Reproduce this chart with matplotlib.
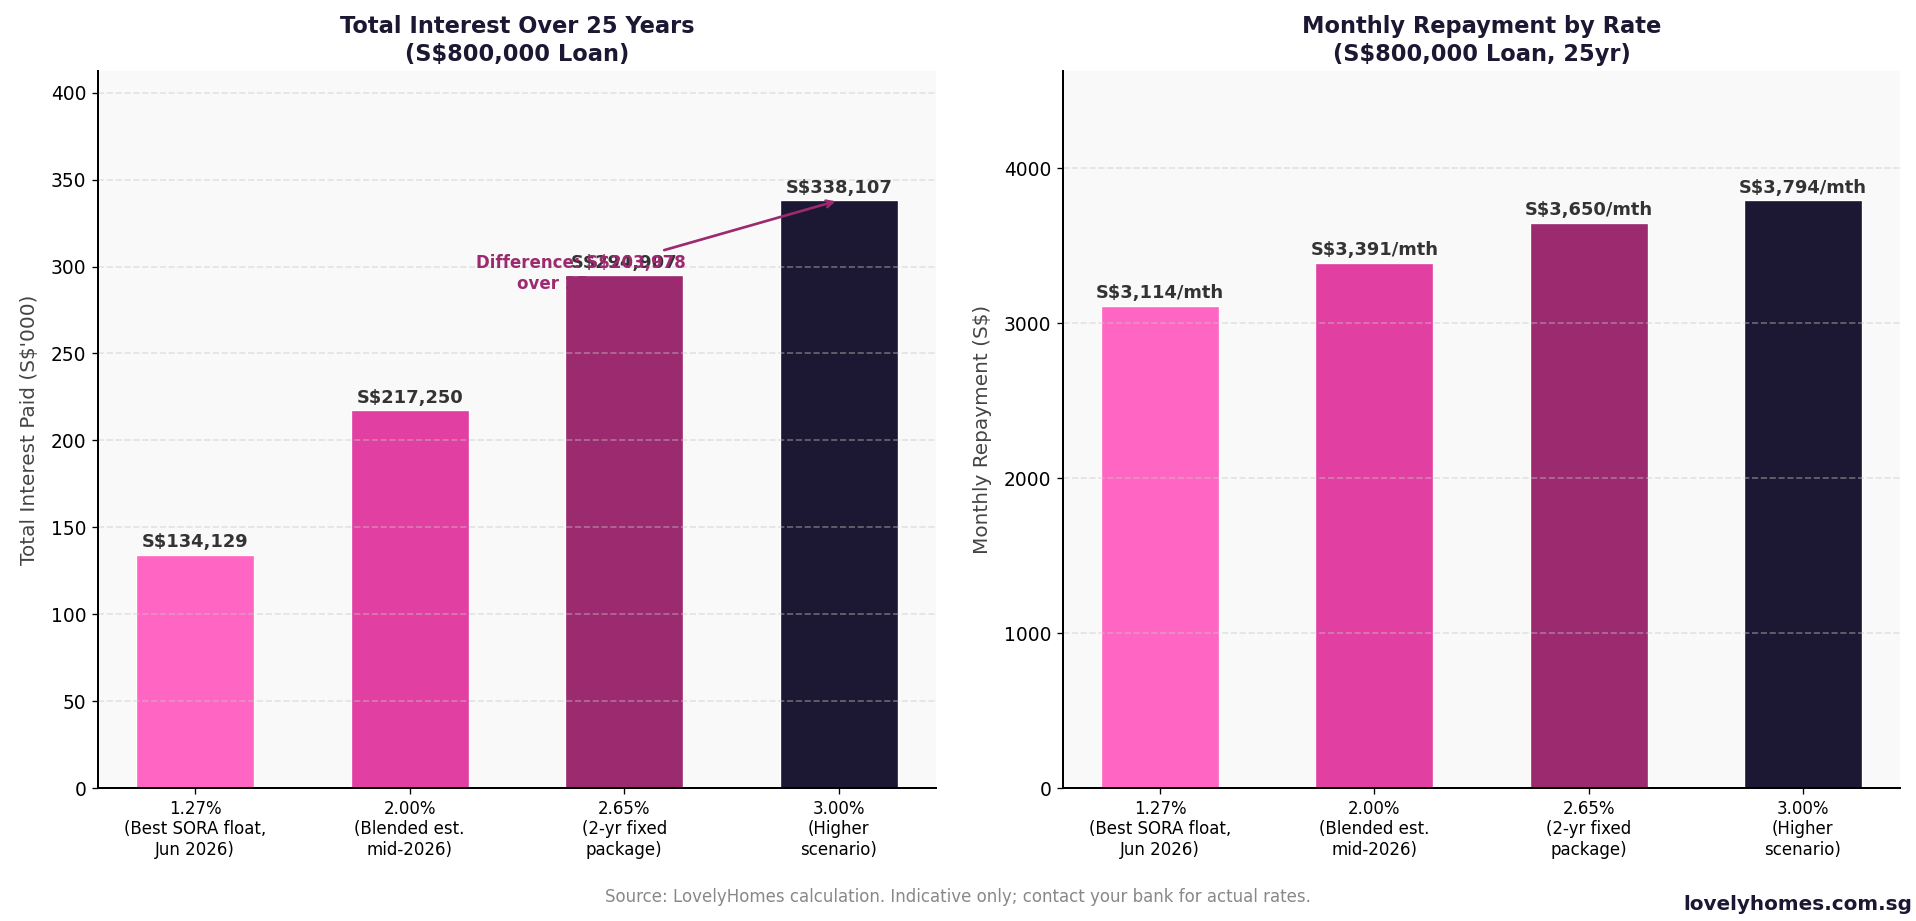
import matplotlib.pyplot as plt
import numpy as np

plt.ioff()

# data
rate_labels = ["1.27%\n(Best SORA float,\nJun 2026)",
               "2.00%\n(Blended est.\nmid-2026)",
               "2.65%\n(2-yr fixed\npackage)",
               "3.00%\n(Higher\nscenario)"]
total_interest = [134129, 217250, 294907, 338107]
monthly_repayment = [3114, 3391, 3650, 3794]
bar_colors = ["#FF66C4", "#E23FA3", "#9B2A6F", "#1C1833"]

DARK = "#1C1833"
ACCENT = "#9B2A6F"


def style_axes(ax):
    ax.set_facecolor("#F9F9F9")
    ax.spines["top"].set_visible(False)
    ax.spines["right"].set_visible(False)
    ax.spines["left"].set_linewidth(1.2)
    ax.spines["bottom"].set_linewidth(1.2)
    ax.grid(axis="y", linestyle="--", color="#c8c8c8", alpha=0.45, linewidth=1.0)
    ax.tick_params(axis="y", labelsize=11.2)
    ax.tick_params(axis="x", labelsize=10)


fig = plt.figure(figsize=(1916 / 120, 921 / 120), dpi=120)
ax1 = fig.add_axes([0.0511, 0.1444, 0.4374, 0.7785])
ax2 = fig.add_axes([0.5548, 0.1444, 0.4368, 0.7785])

x = np.arange(len(rate_labels))

# left: total interest
vals_k = np.array(total_interest) / 1000
ax1.bar(x, vals_k, width=0.55, color=bar_colors, edgecolor="white", linewidth=0.8)
style_axes(ax1)
ax1.set_ylim(0, vals_k.max() * 1.22)
ax1.set_xticks(x)
ax1.set_xticklabels(rate_labels)
ax1.set_ylabel("Total Interest Paid (S$'000)", fontsize=12, color="#444444", labelpad=7)
ax1.set_title("Total Interest Over 25 Years\n(S$800,000 Loan)", fontsize=13.5,
              fontweight="bold", color=DARK, pad=6, linespacing=1.3)
for xi, v in zip(x, total_interest):
    ax1.text(xi, v / 1000 + vals_k.max() * 0.006, f"S${v:,.0f}", ha="center", va="bottom",
             fontsize=10.7, fontweight="bold", color="#333333")

diff = total_interest[-1] - total_interest[0]
ax1.annotate(f"Difference: S${diff:,.0f}\nover 25 years",
             xy=(3, vals_k[-1]), xytext=(1.8, vals_k.max() * 0.875),
             ha="center", va="center", fontsize=10, fontweight="bold", color=ACCENT,
             arrowprops=dict(arrowstyle="->", color=ACCENT, lw=1.6))

# right: monthly repayment
vals_m = np.array(monthly_repayment)
ax2.bar(x, vals_m, width=0.55, color=bar_colors, edgecolor="white", linewidth=0.8)
style_axes(ax2)
ax2.set_ylim(0, vals_m.max() * 1.22)
ax2.set_xticks(x)
ax2.set_xticklabels(rate_labels)
ax2.set_yticks([0, 1000, 2000, 3000, 4000])
ax2.set_ylabel("Monthly Repayment (S$)", fontsize=12, color="#444444", labelpad=7)
ax2.set_title("Monthly Repayment by Rate\n(S$800,000 Loan, 25yr)", fontsize=13.5,
              fontweight="bold", color=DARK, pad=6, linespacing=1.3)
for xi, v in zip(x, monthly_repayment):
    ax2.text(xi, v + vals_m.max() * 0.006, f"S${v:,.0f}/mth", ha="center", va="bottom",
             fontsize=10.7, fontweight="bold", color="#333333")

fig.text(0.5, 0.026, "Source: LovelyHomes calculation. Indicative only; contact your bank for actual rates.",
         ha="center", va="center", fontsize=10, color="#888888")
fig.text(0.998, 0.018, "lovelyhomes.com.sg", ha="right", va="center", fontsize=12,
         fontweight="bold", color=DARK)

fig.savefig("out.png", dpi=120, facecolor="white")
